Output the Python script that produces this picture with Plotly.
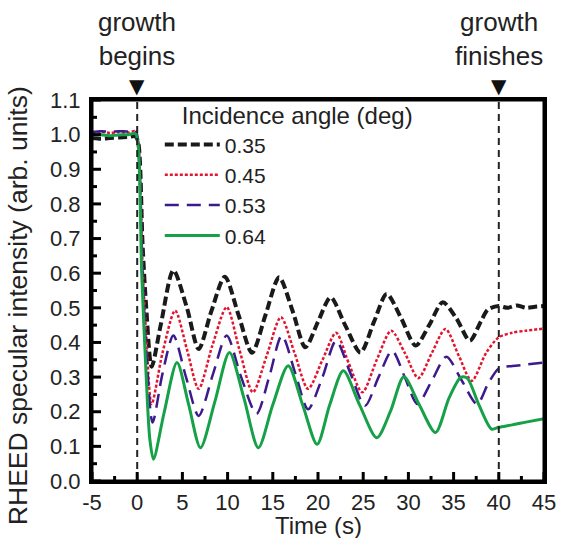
import plotly.graph_objects as go

# ---- data ----
t_035 = [-5, -4, -3, -2, -1, -0.2, 0.1, 0.6, 1.0, 1.6, 2.6, 4.0, 5.5, 6.8, 8.2, 9.7, 11.2, 12.7,
         14.2, 15.7, 17.2, 18.6, 20.0, 21.4, 23.0, 24.7, 26.2, 27.6, 29.2, 30.8, 32.3, 33.8,
         35.3, 36.8, 38.0, 38.8, 40, 41, 42, 43, 44, 45]
v_035 = [0.99, 0.988, 0.99, 0.992, 0.993, 0.995, 0.98, 0.68, 0.5, 0.33, 0.45, 0.608, 0.5, 0.381,
         0.49, 0.59, 0.48, 0.37, 0.48, 0.588, 0.49, 0.386, 0.46, 0.53, 0.45, 0.371, 0.46, 0.54,
         0.47, 0.391, 0.45, 0.516, 0.47, 0.405, 0.46, 0.495, 0.505, 0.5, 0.507, 0.5, 0.503, 0.505]

t_045 = [-5, -4, -3, -2, -1, -0.2, 0.1, 0.6, 1.0, 1.6, 2.8, 4.2, 5.5, 6.8, 8.3, 9.9, 11.3, 12.8,
         14.3, 15.9, 17.4, 18.9, 20.5, 22.0, 23.4, 24.9, 26.5, 28.1, 29.6, 31.1, 32.6, 34.1,
         35.6, 37.0, 38.6, 40.0, 41.5, 43, 45]
v_045 = [1.005, 1.008, 1.005, 1.007, 1.006, 1.01, 0.98, 0.62, 0.42, 0.222, 0.37, 0.492, 0.38,
         0.266, 0.39, 0.502, 0.38, 0.256, 0.36, 0.473, 0.37, 0.266, 0.35, 0.428, 0.34, 0.256,
         0.35, 0.434, 0.37, 0.297, 0.37, 0.439, 0.36, 0.289, 0.37, 0.415, 0.428, 0.434, 0.44]

t_053 = [-5, -4, -3, -2, -1, -0.2, 0.1, 0.6, 1.0, 1.7, 2.8, 4.0, 5.4, 6.8, 8.4, 9.9, 11.5, 13.2,
         14.6, 16.0, 17.5, 18.9, 20.5, 22.0, 23.6, 25.2, 26.7, 28.2, 29.6, 31.0, 32.6, 34.2,
         35.9, 37.6, 38.8, 40.0, 41.5, 43, 45]
v_053 = [1.008, 1.01, 1.008, 1.01, 1.009, 1.012, 0.98, 0.6, 0.38, 0.169, 0.31, 0.42, 0.3, 0.188,
         0.31, 0.42, 0.3, 0.194, 0.3, 0.42, 0.31, 0.207, 0.3, 0.405, 0.31, 0.217, 0.3, 0.376,
         0.3, 0.222, 0.29, 0.359, 0.29, 0.222, 0.28, 0.325, 0.332, 0.336, 0.342]

t_064 = [-5, -4, -3, -2, -1, -0.2, 0.1, 0.5, 1.0, 1.4, 1.8, 3.0, 4.4, 5.7, 7.0, 8.6, 10.2, 11.8,
         13.4, 15.0, 16.7, 18.3, 19.9, 21.3, 22.8, 24.6, 26.5, 28.0, 29.5, 31.2, 33.0, 34.5,
         35.8, 36.5, 37.8, 39.2, 40, 41.5, 43, 45]
v_064 = [0.998, 1.0, 0.997, 0.999, 1.0, 1.003, 0.97, 0.6, 0.3, 0.12, 0.063, 0.2, 0.342, 0.22,
         0.096, 0.23, 0.371, 0.24, 0.096, 0.22, 0.333, 0.22, 0.106, 0.22, 0.318, 0.22, 0.125,
         0.2, 0.301, 0.22, 0.14, 0.24, 0.299, 0.297, 0.22, 0.15, 0.155, 0.162, 0.17, 0.18]

labels = ["0.35", "0.45", "0.53", "0.64"]
event_times = [0, 40]
event_texts = ["growth<br>begins", "growth<br>finishes"]
x_ticks = [-5, 0, 5, 10, 15, 20, 25, 30, 35, 40, 45]
y_ticks = [0.0, 0.1, 0.2, 0.3, 0.4, 0.5, 0.6, 0.7, 0.8, 0.9, 1.0, 1.1]

FONT = "Liberation Sans, Arial, sans-serif"
TXT = "#222222"

W, H = 561, 538
M = dict(l=92, r=17, t=100, b=57)
plot_w = W - M["l"] - M["r"]
plot_h = H - M["t"] - M["b"]
x_per_px = (x_ticks[-1] - x_ticks[0]) / plot_w
y_per_px = (y_ticks[-1] - y_ticks[0]) / plot_h

fig = go.Figure()
series = [
    (t_035, v_035, "#1a1a1a", 4, "9px,4px"),
    (t_045, v_045, "#e3142f", 2.5, "3px,2px"),
    (t_053, v_053, "#3c1a8c", 2.5, "14px,8px"),
    (t_064, v_064, "#16a048", 3, "solid"),
]
for (t, v, col, w, dash), name in zip(series, labels):
    fig.add_trace(go.Scatter(
        x=t, y=v, mode="lines", name=name,
        line=dict(color=col, width=w, dash=dash, shape="spline", smoothing=0.8),
    ))

for xt, txt in zip(event_times, event_texts):
    fig.add_shape(type="line", x0=xt, x1=xt, y0=y_ticks[0], y1=y_ticks[-1], xref="x", yref="y",
                  opacity=1, line=dict(color="#222222", width=2, dash="7px,5px"))
    fig.add_annotation(x=xt, y=1.07, xref="x", yref="paper", text=txt, showarrow=False,
                       yanchor="bottom", xanchor="center", align="center",
                       font=dict(size=26, color=TXT, family=FONT))
    # downward triangle marker just above the frame
    fig.add_annotation(x=xt, y=1.038, xref="x", yref="paper", text="\u25BC", showarrow=False,
                       yanchor="middle", xanchor="center",
                       font=dict(size=20, color="#111111", family="DejaVu Sans"))

# inward tick marks (major 8 px, minor 4 px), placed through the axes
x_minor = [(a + b) / 2 for a, b in zip(x_ticks[:-1], x_ticks[1:])]
y_minor = [(a + b) / 2 for a, b in zip(y_ticks[:-1], y_ticks[1:])]
for xv, ln in [(v, 9) for v in x_ticks] + [(v, 5) for v in x_minor]:
    fig.add_shape(type="line", xref="x", yref="y", x0=xv, x1=xv,
                  y0=y_ticks[0], y1=y_ticks[0] + ln * y_per_px,
                  opacity=1, line=dict(color="black", width=3))
for yv, ln in [(v, 9) for v in y_ticks] + [(v, 5) for v in y_minor]:
    fig.add_shape(type="line", xref="x", yref="y", y0=yv, y1=yv,
                  x0=x_ticks[0], x1=x_ticks[0] + ln * x_per_px,
                  opacity=1, line=dict(color="black", width=3))
# frame
fig.add_shape(type="rect", xref="paper", yref="paper", x0=0, x1=1, y0=0, y1=1, opacity=1,
              line=dict(color="black", width=3), fillcolor="rgba(0,0,0,0)")

fig.add_annotation(x=-0.1637, y=0.459, xref="paper", yref="paper", xanchor="center",
                   yanchor="middle", text="RHEED specular intensity (arb. units)",
                   textangle=-90, showarrow=False,
                   font=dict(size=26.5, color=TXT, family=FONT))
fig.add_annotation(x=0.5, y=-0.118, xref="paper", yref="paper", xanchor="center",
                   yanchor="middle", text="Time (s)", showarrow=False,
                   font=dict(size=24, color=TXT, family=FONT))

tickfont = dict(size=22, color=TXT, family=FONT)
xaxis = dict(
    range=[x_ticks[0], x_ticks[-1]], tickmode="array", tickvals=x_ticks,
    ticktext=[str(v) for v in x_ticks],
    showline=True, linecolor="black", linewidth=3, mirror=True,
    ticks="", showgrid=False, zeroline=False, automargin=False,
    tickfont=tickfont, ticklabelstandoff=0,
)
yaxis = dict(
    range=[y_ticks[0], y_ticks[-1]], tickmode="array", tickvals=y_ticks,
    ticktext=[f"{v:.1f}" for v in y_ticks],
    showline=True, linecolor="black", linewidth=3, mirror=True,
    ticks="", showgrid=False, zeroline=False, automargin=False,
    tickfont=tickfont, ticklabelstandoff=4,
)

fig.update_layout(
    template="none",
    width=W, height=H,
    margin=M,
    paper_bgcolor="white", plot_bgcolor="white",
    font=dict(family=FONT, color=TXT),
    xaxis=xaxis, yaxis=yaxis,
    legend=dict(
        x=0.15, y=1.018, xanchor="left", yanchor="top",
        bgcolor="rgba(0,0,0,0)", borderwidth=0,
        title=dict(text="\u00a0\u00a0\u00a0Incidence angle (deg)",
                   font=dict(size=24, family=FONT, color=TXT)),
        font=dict(size=21, family=FONT, color=TXT),
        itemwidth=55, tracegroupgap=0,
    ),
    showlegend=True,
)

fig.write_html("out.html", config={"displayModeBar": False},
               post_script="document.body.style.margin='0';document.body.style.overflow='hidden';")
